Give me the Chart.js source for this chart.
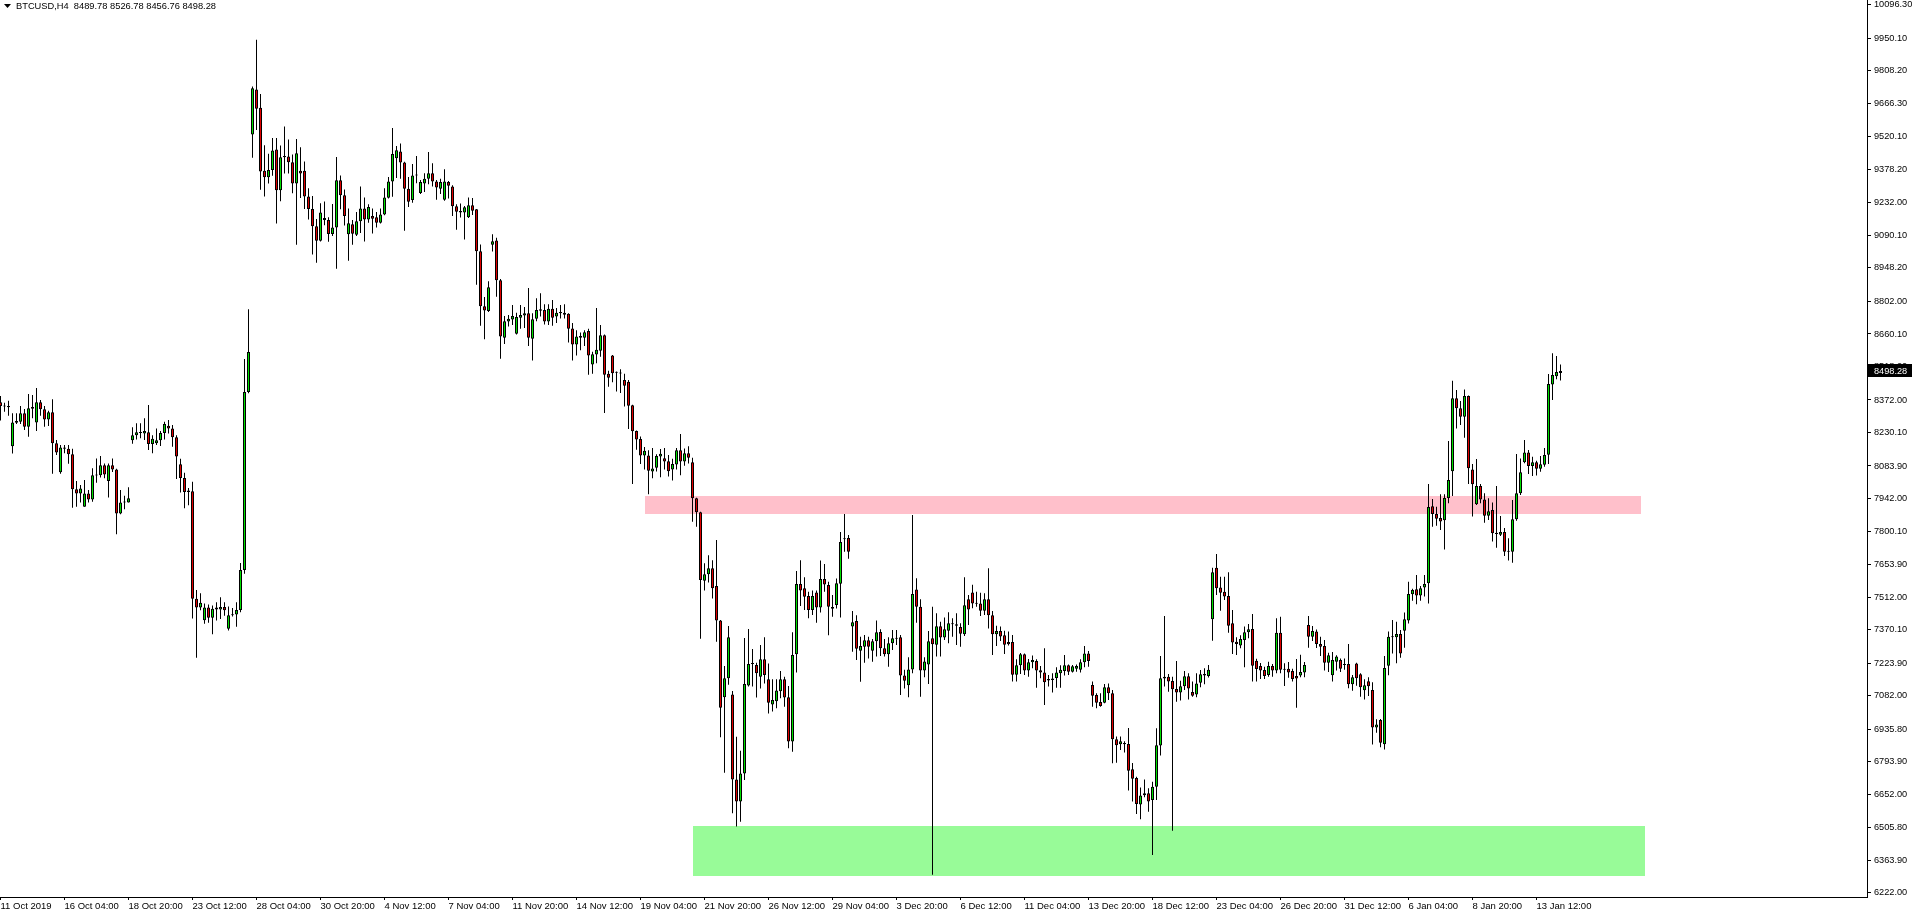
<!DOCTYPE html>
<html>
<head>
<meta charset="utf-8">
<title>BTCUSD,H4</title>
<script src="https://cdn.jsdelivr.net/npm/chart.js@4.4.1/dist/chart.umd.min.js"></script>
<style>
  html, body { margin: 0; padding: 0; background: #fff; overflow: hidden; }
  #chart { display: block; width: 1912px; height: 915px; }
</style>
</head>
<body>
<canvas id="chart" width="1912" height="915"></canvas>
<script>
// ─── BTCUSD H4 candles, 11 Oct 2019 → 14 Jan 2020 ─────────────
const opens = [
  8362, 8346, 8346, 8170, 8273, 8277, 8314, 8255, 8334, 8274,
  8362, 8331, 8287, 8318, 8183, 8056, 8165, 8159, 8135, 7982,
  7964, 7906, 7964, 7938, 8042, 8043, 8087, 8018, 8087, 8069,
  7876, 7925, 7925, 8196, 8218, 8228, 8226, 8231, 8180, 8183,
  8196, 8228, 8260, 8248, 8209, 8091, 8031, 7977, 7974, 7504,
  7466, 7411, 7466, 7422, 7466, 7457, 7468, 7373, 7432, 7436,
  7455, 7630, 8407, 9531, 9727, 9647, 9372, 9344, 9376, 9465,
  9287, 9431, 9435, 9410, 9317, 9372, 9372, 9260, 9206, 9130,
  9067, 9166, 9157, 9096, 9125, 9331, 9265, 9095, 9139, 9093,
  9152, 9208, 9160, 9175, 9169, 9146, 9182, 9255, 9326, 9427,
  9457, 9408, 9294, 9245, 9352, 9275, 9317, 9338, 9361, 9326,
  9294, 9246, 9323, 9304, 9217, 9197, 9190, 9169, 9222, 9204,
  9021, 8781, 8760, 9050, 9068, 8895, 8644, 8714, 8723, 8661,
  8731, 8741, 8751, 8639, 8726, 8761, 8765, 8714, 8770, 8736,
  8751, 8753, 8748, 8684, 8614, 8651, 8644, 8673, 8527, 8571,
  8587, 8654, 8486, 8566, 8494, 8492, 8459, 8451, 8349, 8237,
  8202, 8130, 8130, 8060, 8076, 8125, 8118, 8105, 8068, 8090,
  8153, 8103, 8140, 8100, 7943, 7882, 7583, 7611, 7637, 7560,
  7410, 7074, 7157, 7087, 6716, 6620, 6742, 7126, 7220, 7215,
  7164, 7240, 7153, 7043, 7057, 7101, 7153, 7074, 6881, 7262,
  7569, 7550, 7516, 7455, 7532, 7466, 7591, 7564, 7468, 7477,
  7570, 7766, 7770, 7383, 7407, 7278, 7295, 7323, 7278, 7319,
  7359, 7288, 7262, 7310, 7330, 7336, 7169, 7127, 7196, 7545,
  7470, 7191, 7217, 7332, 7304, 7384, 7335, 7365, 7397, 7393,
  7381, 7349, 7502, 7532, 7486, 7484, 7452, 7502, 7432, 7349,
  7364, 7345, 7316, 7316, 7173, 7214, 7262, 7191, 7227, 7233,
  7192, 7183, 7154, 7150, 7159, 7179, 7189, 7214, 7186, 7199,
  7194, 7227, 7266, 7128, 7084, 7054, 7051, 7118, 7092, 6891,
  6869, 6875, 6871, 6760, 6722, 6606, 6647, 6655, 6626, 6684,
  6864, 7156, 7164, 7145, 7111, 7095, 7122, 7166, 7097, 7087,
  7138, 7169, 7167, 7415, 7640, 7554, 7535, 7516, 7397, 7317,
  7300, 7324, 7358, 7372, 7234, 7211, 7193, 7172, 7211, 7191,
  7356, 7194, 7199, 7189, 7167, 7169, 7182, 7390, 7339, 7361,
  7307, 7298, 7225, 7170, 7230, 7237, 7220, 7220, 7131, 7222,
  7175, 7105, 7144, 7106, 6943, 6975, 6869, 7212, 7339, 7336,
  7351, 7365, 7409, 7524, 7546, 7519, 7554, 7572, 7908, 7874,
  7857, 7847, 7944, 8061, 8379, 8336, 8299, 8389, 8069, 7917,
  7997, 7938, 7867, 7892, 7793, 7784, 7796, 7710, 7710, 7851,
  7965, 8100, 8143, 8084, 8100, 8072, 8089, 8133, 8440, 8476,
  8489.78
];
const highs = [
  8389, 8360, 8369, 8314, 8314, 8346, 8333, 8398, 8394, 8424,
  8372, 8346, 8325, 8375, 8197, 8175, 8175, 8175, 8159, 8018,
  8001, 8023, 7979, 8074, 8117, 8127, 8095, 8095, 8117, 8072,
  7979, 7954, 7991, 8253, 8270, 8270, 8292, 8350, 8218, 8248,
  8237, 8277, 8285, 8263, 8218, 8116, 8054, 7988, 8015, 7543,
  7528, 7484, 7479, 7475, 7489, 7511, 7489, 7471, 7464, 7489,
  7660, 8551, 8768, 9740, 9944, 9707, 9484, 9447, 9515, 9515,
  9483, 9566, 9509, 9443, 9511, 9475, 9413, 9296, 9262, 9162,
  9231, 9238, 9169, 9227, 9432, 9352, 9291, 9208, 9157, 9192,
  9304, 9256, 9226, 9208, 9192, 9208, 9296, 9345, 9559, 9480,
  9491, 9412, 9345, 9402, 9437, 9332, 9361, 9454, 9405, 9332,
  9338, 9379, 9328, 9309, 9226, 9230, 9219, 9256, 9254, 9206,
  9051, 8821, 8890, 9095, 9080, 8900, 8739, 8743, 8786, 8753,
  8786, 8778, 8861, 8750, 8816, 8838, 8790, 8790, 8808, 8773,
  8786, 8790, 8750, 8708, 8676, 8666, 8676, 8683, 8582, 8773,
  8699, 8658, 8499, 8568, 8496, 8506, 8486, 8459, 8351, 8239,
  8213, 8167, 8153, 8162, 8135, 8158, 8162, 8132, 8115, 8162,
  8223, 8160, 8170, 8120, 7945, 7884, 7659, 7694, 7673, 7761,
  7412, 7211, 7385, 7102, 6902, 6841, 7333, 7372, 7285, 7225,
  7303, 7336, 7222, 7153, 7153, 7189, 7164, 7124, 7358, 7625,
  7673, 7598, 7535, 7540, 7540, 7671, 7656, 7579, 7521, 7593,
  7796, 7874, 7783, 7451, 7432, 7339, 7346, 7339, 7329, 7409,
  7371, 7329, 7336, 7368, 7368, 7346, 7194, 7249, 7870, 7594,
  7502, 7249, 7364, 7470, 7441, 7404, 7423, 7445, 7419, 7441,
  7397, 7598, 7521, 7565, 7535, 7531, 7528, 7637, 7451, 7387,
  7383, 7365, 7361, 7346, 7240, 7268, 7265, 7242, 7257, 7240,
  7211, 7288, 7172, 7179, 7205, 7214, 7259, 7218, 7215, 7217,
  7240, 7298, 7276, 7143, 7092, 7092, 7132, 7135, 7106, 6903,
  6903, 6882, 6940, 6788, 6728, 6681, 6716, 6677, 6706, 6939,
  7255, 7429, 7176, 7164, 7233, 7147, 7189, 7179, 7143, 7179,
  7193, 7201, 7215, 7640, 7700, 7600, 7600, 7620, 7455, 7336,
  7345, 7383, 7394, 7438, 7243, 7224, 7208, 7230, 7220, 7419,
  7426, 7223, 7228, 7199, 7242, 7260, 7228, 7429, 7386, 7370,
  7339, 7324, 7269, 7272, 7258, 7244, 7244, 7307, 7172, 7225,
  7179, 7153, 7162, 7140, 6978, 6980, 7255, 7361, 7412, 7404,
  7368, 7444, 7579, 7548, 7608, 7560, 7608, 8005, 7940, 7906,
  7960, 7960, 8193, 8456, 8416, 8368, 8418, 8392, 8093, 8114,
  8005, 7965, 7943, 7924, 7997, 7866, 7813, 7768, 7935, 8136,
  8117, 8197, 8154, 8124, 8107, 8127, 8162, 8485, 8576, 8564,
  8526.78
];
const lows = [
  8282, 8321, 8303, 8138, 8267, 8267, 8241, 8212, 8292, 8237,
  8303, 8255, 8258, 8050, 8132, 8050, 8139, 8094, 7902, 7906,
  7924, 7906, 7924, 7928, 8011, 8034, 8030, 7946, 8058, 7786,
  7873, 7895, 7924, 8181, 8200, 8205, 8197, 8154, 8139, 8175,
  8171, 8200, 8226, 8168, 8027, 7968, 7899, 7912, 7418, 7247,
  7454, 7395, 7400, 7350, 7409, 7416, 7430, 7366, 7427, 7382,
  7446, 7614, 8401, 9429, 9550, 9290, 9260, 9317, 9351, 9142,
  9239, 9360, 9360, 9274, 9050, 9253, 9206, 9160, 9007, 8971,
  9064, 9135, 9063, 9088, 8945, 9204, 9133, 8980, 9050, 9088,
  9101, 9064, 9146, 9099, 9125, 9142, 9178, 9251, 9259, 9341,
  9338, 9111, 9214, 9233, 9318, 9271, 9280, 9313, 9304, 9246,
  9271, 9242, 9251, 9175, 9115, 9168, 9072, 9166, 9179, 8875,
  8696, 8637, 8756, 9020, 8823, 8552, 8616, 8693, 8699, 8658,
  8683, 8686, 8608, 8544, 8716, 8736, 8701, 8699, 8696, 8708,
  8728, 8728, 8623, 8544, 8566, 8589, 8608, 8482, 8486, 8532,
  8561, 8315, 8430, 8449, 8409, 8402, 8344, 8245, 8005, 8155,
  8093, 8068, 7960, 8030, 8060, 8035, 8068, 8038, 8021, 8068,
  8043, 8085, 8095, 7841, 7819, 7330, 7540, 7575, 7506, 7317,
  6900, 6745, 7129, 6568, 6510, 6531, 6713, 7121, 7121, 7073,
  7113, 7135, 7004, 7012, 7026, 7070, 7033, 6852, 6837, 7182,
  7473, 7455, 7419, 7433, 7400, 7444, 7535, 7345, 7426, 7462,
  7423, 7710, 7679, 7273, 7237, 7142, 7225, 7244, 7230, 7252,
  7255, 7252, 7208, 7281, 7303, 7084, 7113, 7074, 7179, 7400,
  7077, 7162, 7132, 6300, 7252, 7252, 7324, 7310, 7339, 7303,
  7295, 7342, 7390, 7463, 7470, 7429, 7434, 7375, 7259, 7298,
  7320, 7263, 7300, 7143, 7143, 7176, 7172, 7164, 7201, 7116,
  7157, 7041, 7121, 7095, 7116, 7116, 7169, 7172, 7182, 7186,
  7183, 7205, 7208, 7033, 7026, 7033, 7048, 7063, 6786, 6789,
  6844, 6833, 6667, 6619, 6565, 6542, 6638, 6575, 6386, 6626,
  6820, 7121, 7099, 6492, 7055, 7060, 7106, 7065, 7077, 7074,
  7118, 7131, 7161, 7321, 7521, 7452, 7499, 7356, 7263, 7259,
  7288, 7205, 7332, 7143, 7143, 7154, 7154, 7164, 7164, 7179,
  7179, 7124, 7160, 7143, 7029, 7162, 7162, 7291, 7320, 7290,
  7255, 7191, 7185, 7143, 7191, 7185, 7194, 7114, 7103, 7125,
  7077, 7065, 7080, 6868, 6920, 6856, 6847, 7170, 7266, 7223,
  7247, 7291, 7396, 7496, 7480, 7496, 7514, 7484, 7819, 7823,
  7805, 7719, 7921, 7953, 8248, 8263, 8207, 8005, 7863, 7914,
  7921, 7836, 7848, 7754, 7727, 7778, 7691, 7671, 7662, 7845,
  7957, 8096, 8049, 8040, 8042, 8059, 8081, 8093, 8372, 8462,
  8456.76
];
const closes = [
  8346, 8343, 8340, 8274, 8280, 8314, 8255, 8336, 8341, 8362,
  8331, 8287, 8318, 8183, 8143, 8165, 8159, 8135, 7982, 7964,
  7986, 7964, 7938, 8043, 8044, 8087, 8047, 8087, 8069, 7876,
  7925, 7924, 7943, 8218, 8231, 8232, 8237, 8180, 8203, 8196,
  8228, 8267, 8247, 8209, 8125, 8031, 7970, 7970, 7504, 7466,
  7487, 7466, 7422, 7461, 7457, 7468, 7454, 7432, 7437, 7455,
  7630, 8407, 8581, 9732, 9643, 9369, 9344, 9376, 9461, 9287,
  9431, 9437, 9410, 9317, 9449, 9360, 9260, 9206, 9130, 9067,
  9190, 9157, 9096, 9125, 9331, 9265, 9175, 9143, 9098, 9152,
  9208, 9160, 9214, 9163, 9146, 9182, 9256, 9326, 9446, 9462,
  9409, 9294, 9237, 9352, 9354, 9323, 9338, 9361, 9326, 9299,
  9323, 9326, 9307, 9217, 9194, 9190, 9213, 9222, 9198, 9021,
  8781, 8763, 8864, 9065, 8895, 8649, 8716, 8726, 8738, 8734,
  8743, 8751, 8644, 8724, 8765, 8768, 8714, 8770, 8731, 8753,
  8756, 8744, 8683, 8614, 8649, 8644, 8668, 8566, 8572, 8591,
  8654, 8482, 8469, 8489, 8491, 8487, 8434, 8347, 8235, 8200,
  8130, 8150, 8063, 8073, 8127, 8137, 8103, 8061, 8093, 8153,
  8103, 8140, 8120, 7943, 7882, 7586, 7611, 7637, 7550, 7409,
  7029, 7157, 7336, 6716, 6620, 6742, 7132, 7220, 7222, 7179,
  7240, 7172, 7051, 7062, 7104, 7153, 7073, 6881, 7259, 7569,
  7540, 7513, 7455, 7516, 7466, 7591, 7567, 7470, 7461, 7572,
  7752, 7764, 7710, 7402, 7286, 7298, 7323, 7295, 7319, 7358,
  7288, 7262, 7310, 7332, 7334, 7169, 7146, 7196, 7525, 7470,
  7191, 7231, 7319, 7306, 7384, 7335, 7371, 7397, 7393, 7387,
  7352, 7476, 7457, 7484, 7483, 7452, 7502, 7432, 7349, 7364,
  7340, 7304, 7306, 7173, 7214, 7262, 7191, 7227, 7237, 7191,
  7183, 7140, 7148, 7156, 7183, 7194, 7214, 7186, 7210, 7211,
  7227, 7266, 7233, 7081, 7051, 7036, 7118, 7092, 6891, 6865,
  6882, 6869, 6754, 6719, 6609, 6646, 6656, 6619, 6684, 6865,
  7157, 7164, 7143, 7109, 7095, 7122, 7166, 7113, 7081, 7135,
  7175, 7176, 7194, 7620, 7550, 7531, 7514, 7387, 7313, 7307,
  7329, 7358, 7371, 7212, 7198, 7191, 7167, 7211, 7191, 7356,
  7194, 7198, 7182, 7154, 7156, 7185, 7215, 7339, 7364, 7307,
  7295, 7225, 7258, 7237, 7252, 7199, 7215, 7131, 7162, 7157,
  7118, 7127, 7122, 6943, 6956, 6876, 7202, 7339, 7336, 7351,
  7266, 7415, 7525, 7543, 7519, 7550, 7569, 7905, 7874, 7854,
  7842, 7944, 8023, 8379, 8336, 8299, 8389, 8074, 8004, 7997,
  7938, 7867, 7886, 7790, 7787, 7796, 7710, 7714, 7851, 7965,
  8056, 8143, 8084, 8100, 8072, 8092, 8132, 8442, 8481, 8494,
  8498.28
];

// time scale labels, one every 16 bars
const timeLabels = [
  '11 Oct 2019', '16 Oct 04:00', '18 Oct 20:00', '23 Oct 12:00', '28 Oct 04:00',
  '30 Oct 20:00', '4 Nov 12:00', '7 Nov 04:00', '11 Nov 20:00', '14 Nov 12:00',
  '19 Nov 04:00', '21 Nov 20:00', '26 Nov 12:00', '29 Nov 04:00', '3 Dec 20:00',
  '6 Dec 12:00', '11 Dec 04:00', '13 Dec 20:00', '18 Dec 12:00', '23 Dec 04:00',
  '26 Dec 20:00', '31 Dec 12:00', '6 Jan 04:00', '8 Jan 20:00', '13 Jan 12:00'
];
const LABEL_STEP = 16;

// price scale ticks
const priceTicks = [
  10096.30, 9950.10, 9808.20, 9666.30, 9520.10, 9378.20, 9232.00, 9090.10,
  8948.20, 8802.00, 8660.10, 8518.20, 8372.00, 8230.10, 8083.90, 7942.00,
  7800.10, 7653.90, 7512.00, 7370.10, 7223.90, 7082.00, 6935.80, 6793.90,
  6652.00, 6505.80, 6363.90, 6222.00
];
const PRICE_MAX = 10117.7;
const PRICE_MIN = 6202.7;

// zones: [first bar, last bar, low price, high price]
const resistanceZone = [161, 410, 7876, 7953];
const supportZone = [173, 411, 6296, 6513];

const SYMBOL = 'BTCUSD,H4';
const last = closes.length - 1;

// ─── Build datasets ───────────────────────────────────────────
const BULL = '#00E000';
const BEAR = '#E00000';

const bodies = opens.map((o, i) => ({ x: i, y: [o, closes[i]] }));
const wicks = lows.map((l, i) => ({ x: i, y: [l, highs[i]] }));
const bodyColors = opens.map((o, i) => closes[i] >= o ? BULL : BEAR);

const FONT = '"Liberation Sans", Arial, sans-serif';
Chart.defaults.font.family = FONT;
Chart.defaults.font.size = 9.5;
Chart.defaults.color = '#000';

// no extra room around the plot: the frame runs to the canvas edges
const noPadding = s => {
  s.paddingTop = 0;
  s.paddingBottom = 0;
  s.paddingLeft = 0;
  s.paddingRight = 0;
};

// ─── Zones (drawn behind candles) ─────────────────────────────
const zonesPlugin = {
  id: 'zones',
  beforeDatasetsDraw(chart) {
    const { ctx, scales: { x, y } } = chart;
    [[resistanceZone, '#FFC0CB'], [supportZone, '#98FB98']].forEach(([z, color]) => {
      const x0 = Math.round(x.getPixelForValue(z[0]));
      const x1 = Math.round(x.getPixelForValue(z[1]));
      const y0 = Math.round(y.getPixelForValue(z[3]));
      const y1 = Math.round(y.getPixelForValue(z[2]));
      ctx.save();
      ctx.fillStyle = color;
      ctx.fillRect(x0, y0, x1 - x0, y1 - y0);
      ctx.restore();
    });
  }
};

// ─── Header + current price tag ───────────────────────────────
const overlayPlugin = {
  id: 'overlay',
  afterDraw(chart) {
    const { ctx, chartArea, scales: { y } } = chart;
    ctx.save();
    ctx.fillStyle = '#000';
    ctx.beginPath();
    ctx.moveTo(4, 4);
    ctx.lineTo(11, 4);
    ctx.lineTo(7.5, 8);
    ctx.closePath();
    ctx.fill();

    ctx.font = '9.3px ' + FONT;
    ctx.textBaseline = 'middle';
    const ohlc = [opens[last], highs[last], lows[last], closes[last]].map(v => v.toFixed(2)).join(' ');
    ctx.fillText(SYMBOL + '  ' + ohlc, 16, 6);

    const py = Math.round(y.getPixelForValue(closes[last]));
    const left = chartArea.right + 1;
    ctx.fillRect(left, py - 7, chart.width - left, 13);
    ctx.fillStyle = '#fff';
    ctx.font = '9.2px ' + FONT;
    ctx.fillText(closes[last].toFixed(2), chartArea.right + 7, py);
    ctx.restore();
  }
};

new Chart(document.getElementById('chart'), {
  type: 'bar',
  data: {
    datasets: [
      {
        label: 'body',
        data: bodies,
        backgroundColor: bodyColors,
        borderColor: '#000',
        borderWidth: 1,
        borderSkipped: false,
        barThickness: 3,
        minBarLength: 1,
        inflateAmount: 0,
        grouped: false
      },
      {
        label: 'wick',
        data: wicks,
        backgroundColor: '#000',
        borderWidth: 0,
        barThickness: 1,
        inflateAmount: 0,
        grouped: false
      }
    ]
  },
  options: {
    responsive: false,
    animation: false,
    devicePixelRatio: 1,
    layout: { padding: 0 },
    plugins: {
      legend: { display: false },
      tooltip: { enabled: false }
    },
    scales: {
      x: {
        type: 'linear',
        min: -0.125,
        max: 466.625,
        offset: false,
        afterBuildTicks: s => { s.ticks = timeLabels.map((t, k) => ({ value: k * LABEL_STEP })); },
        afterFit: s => { s.height = 18; noPadding(s); },
        ticks: {
          autoSkip: false,
          maxRotation: 0,
          align: 'start',
          padding: 1,
          font: { size: 9.5 },
          callback: (v, i) => timeLabels[i]
        },
        grid: { drawOnChartArea: false, offset: false, tickLength: 3, tickColor: '#000' },
        border: { color: '#000' }
      },
      y: {
        position: 'right',
        min: PRICE_MIN,
        max: PRICE_MAX,
        afterBuildTicks: s => { s.ticks = priceTicks.map(v => ({ value: v })); },
        afterFit: s => { s.width = 45; noPadding(s); },
        ticks: {
          autoSkip: false,
          padding: 3,
          font: { size: 9.2 },
          callback: v => v.toFixed(2)
        },
        grid: { drawOnChartArea: false, tickLength: 4, tickColor: '#000' },
        border: { color: '#000' }
      }
    }
  },
  plugins: [zonesPlugin, overlayPlugin]
});
</script>
</body>
</html>
